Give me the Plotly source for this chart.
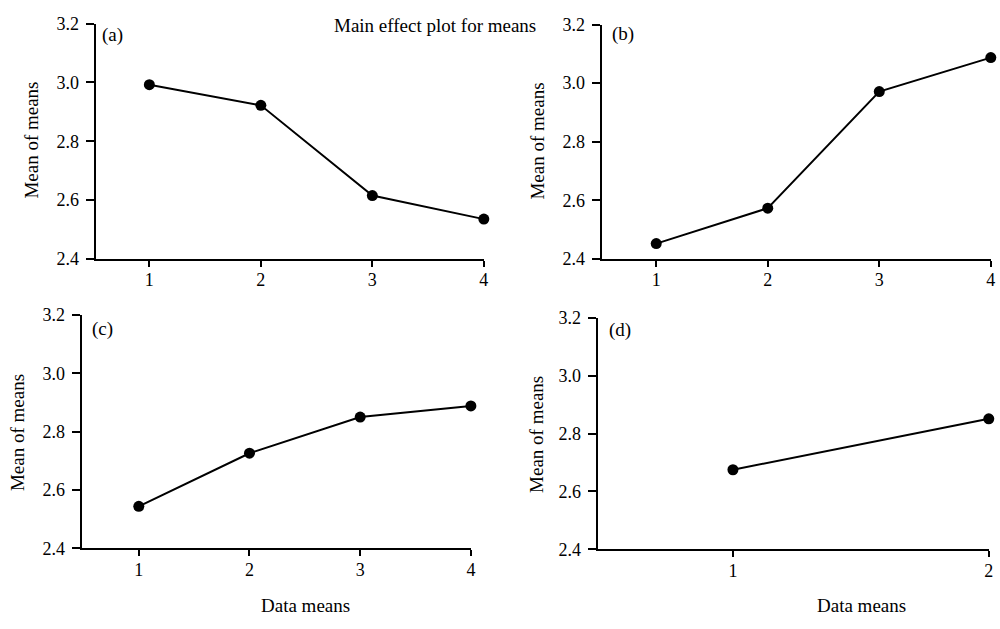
import plotly.graph_objects as go

# ---- data ----
levels_4 = [1, 2, 3, 4]
levels_2 = [1, 2]
means_a = [2.992, 2.922, 2.615, 2.535]
means_b = [2.452, 2.573, 2.971, 3.087]
means_c = [2.544, 2.726, 2.850, 2.888]
means_d = [2.675, 2.851]
y_ticks = [2.4, 2.6, 2.8, 3.0, 3.2]
y_tick_text = ["2.4", "2.6", "2.8", "3.0", "3.2"]
panel_labels = ["(a)", "(b)", "(c)", "(d)"]
title_text = "Main effect plot for means"
y_title = "Mean of means"
x_title = "Data means"

W, H = 1000, 629
FONT = "Liberation Serif"

def px(x):
    return x / W

def py(y):
    return 1 - y / H

fig = go.Figure()

panels = [
    dict(x=levels_4, y=means_a, dom_x=(96, 486), dom_y=(14, 257), xr=[0.518, 4.002]),
    dict(x=levels_4, y=means_b, dom_x=(604, 995), dom_y=(15, 257), xr=[0.51, 4.002]),
    dict(x=levels_4, y=means_c, dom_x=(82, 473), dom_y=(315, 556), xr=[0.484, 4.002]),
    dict(x=levels_2, y=means_d, dom_x=(600, 993), dom_y=(318, 557), xr=[0.471, 2.001]),
]

layout = dict(
    width=W, height=H,
    margin=dict(l=0, r=0, t=0, b=0),
    paper_bgcolor="white", plot_bgcolor="white",
    showlegend=False,
    font=dict(family=FONT, size=18, color="black"),
)

for i, p in enumerate(panels):
    n = "" if i == 0 else str(i + 1)
    fig.add_trace(go.Scatter(
        x=p["x"], y=p["y"], mode="lines+markers",
        line=dict(color="black", width=2),
        marker=dict(color="black", size=11),
        cliponaxis=False,
        xaxis="x" + n, yaxis="y" + n,
    ))
    layout["xaxis" + n] = dict(
        domain=[px(p["dom_x"][0]), px(p["dom_x"][1])],
        anchor="y" + n, range=p["xr"],
        tickvals=p["x"], ticktext=[str(v) for v in p["x"]],
        showgrid=False, zeroline=False,
        showline=True, linecolor="black", linewidth=2,
        ticks="outside", ticklen=6, tickwidth=2, tickcolor="black",
        ticklabelstandoff=-2,
        ticklabeloverflow="allow",
        tickfont=dict(family=FONT, size=18, color="black"),
    )
    layout["yaxis" + n] = dict(
        domain=[py(p["dom_y"][1]), py(p["dom_y"][0])],
        anchor="x" + n, range=[2.4, 3.2],
        tickvals=y_ticks, ticktext=y_tick_text,
        showgrid=False, zeroline=False,
        showline=True, linecolor="black", linewidth=2,
        ticks="outside", ticklen=8, tickwidth=2, tickcolor="black",
        ticklabelstandoff=3,
        ticklabeloverflow="allow",
        tickfont=dict(family=FONT, size=18, color="black"),
    )

annotations = []
# panel labels
label_pos = [(113, 26), (625, 25), (103, 329), (622, 330)]
for lab, (x, y) in zip(panel_labels, label_pos):
    annotations.append(dict(text=lab, x=px(x), y=py(y), xref="paper", yref="paper",
                            showarrow=False, xanchor="center", yanchor="middle",
                            font=dict(family=FONT, size=19, color="black")))
# y titles
ytitle_pos = [(32, 134), (540, 135), (17, 436), (538, 438)]
for (x, y) in ytitle_pos:
    annotations.append(dict(text=y_title, x=px(x), y=py(y), xref="paper", yref="paper",
                            showarrow=False, textangle=-90, xanchor="center", yanchor="middle",
                            font=dict(family=FONT, size=19, color="black")))
# x titles
for (x, y) in [(307, 615), (865, 615)]:
    annotations.append(dict(text=x_title, x=px(x), y=py(y), xref="paper", yref="paper",
                            showarrow=False, xanchor="center", yanchor="middle",
                            font=dict(family=FONT, size=19, color="black")))
# main title
annotations.append(dict(text=title_text, x=px(437), y=py(16), xref="paper", yref="paper",
                        showarrow=False, xanchor="center", yanchor="middle",
                        font=dict(family=FONT, size=19, color="black")))
layout["annotations"] = annotations

fig.update_layout(**layout)
fig.write_html(
    "out.html",
    config={"displayModeBar": False},
    post_script="document.body.style.margin='0';document.body.style.overflow='hidden';",
)
